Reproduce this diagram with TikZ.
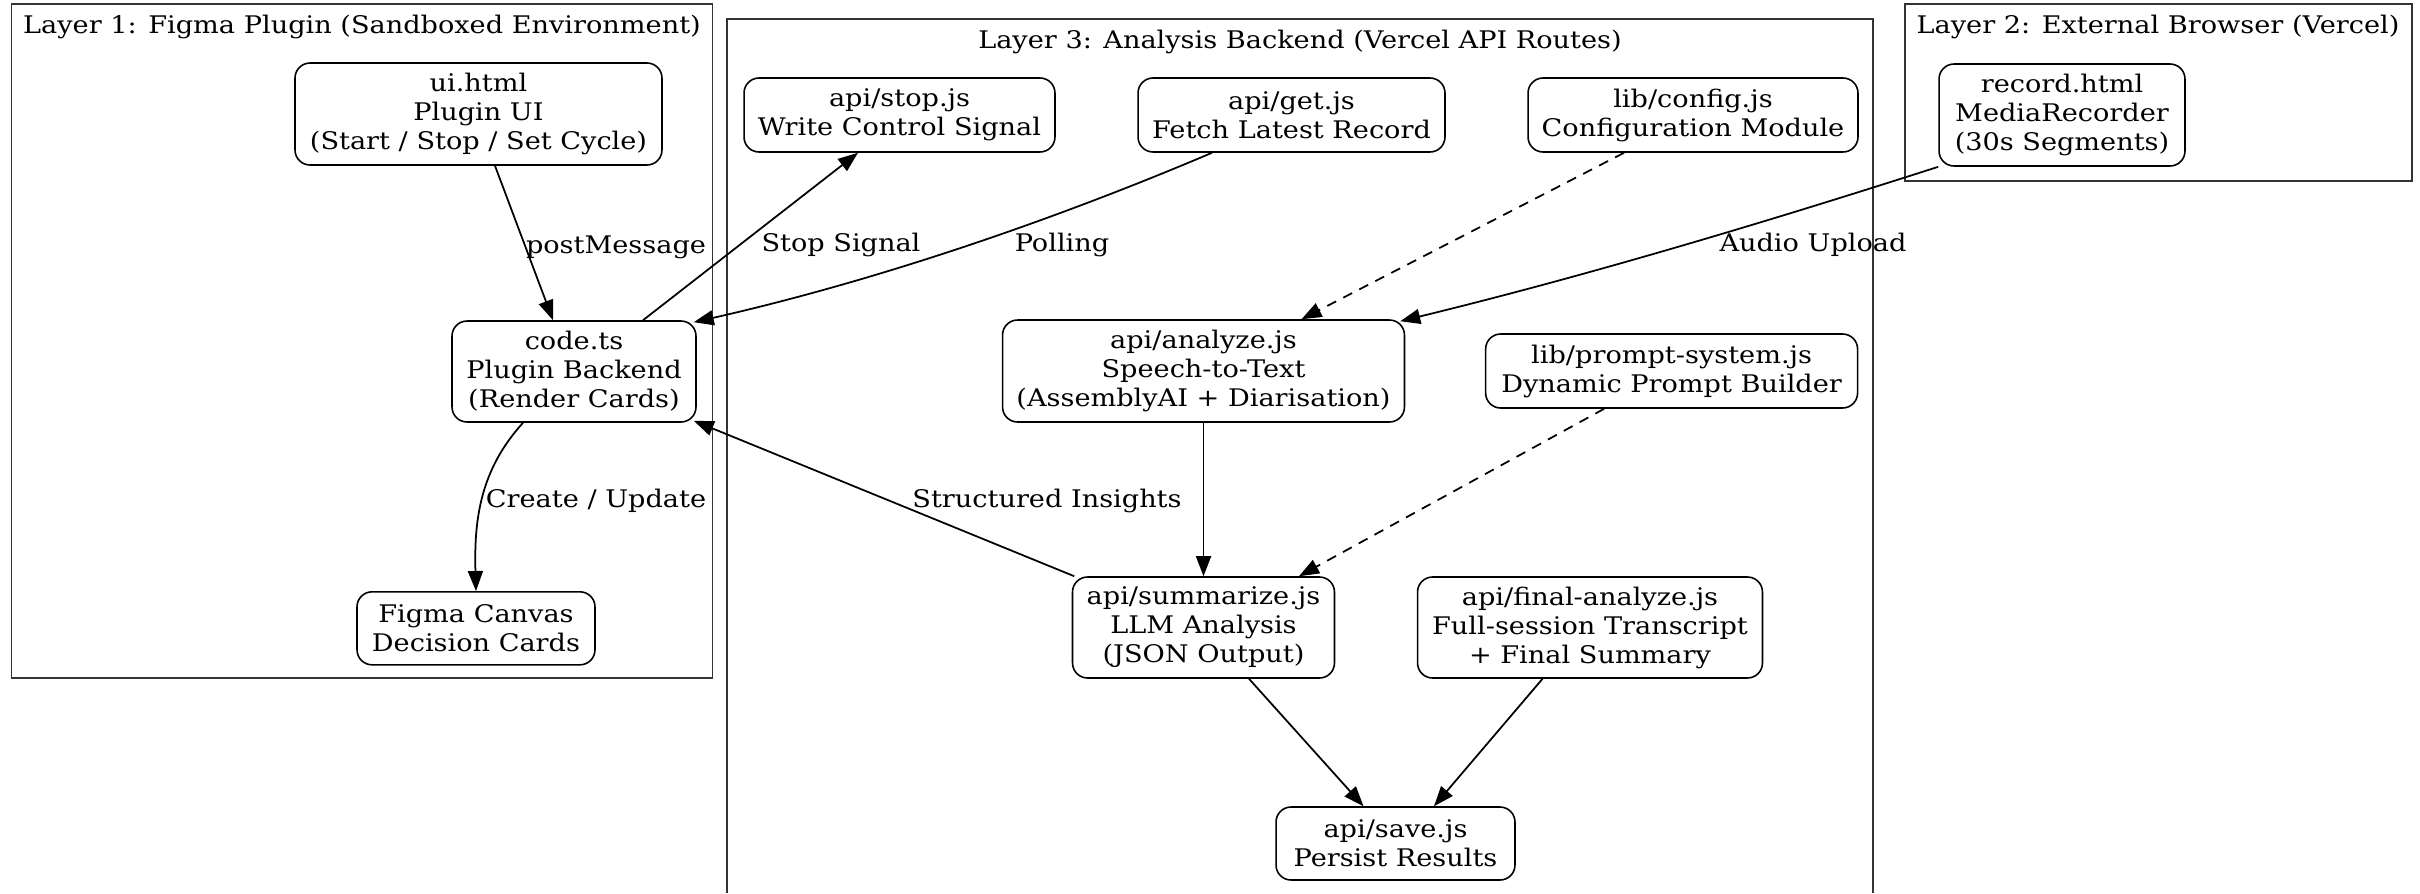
\documentclass[tikz,border=0pt]{standalone}
\usepackage{fontspec}
\setmainfont{DejaVu Serif}[FakeStretch=1.12]
\usepackage{tikz}
\usetikzlibrary{arrows.meta}

\begin{document}
\begin{tikzpicture}[
x=0.02cm, y=-0.02cm,
 every node/.style = {shape=rectangle, rounded corners=0.3cm,
      draw, align=center, inner sep=0pt, line width=0.9pt,
      font=\fontsize{13.8}{16.5}\selectfont},
 edgetext/.style = {draw=none, anchor=base},
 arr/.style = {-{Triangle[length=0.4cm, width=0.3cm]}, line width=1pt},
 dashedarr/.style = {arr, dash pattern=on 0.2cm off 0.16cm},
 layer/.style = {draw=black!80, line width=1pt}
]
\useasboundingbox (0,0) rectangle (2420,893);

  % Capas
  \draw[layer] (11.5,4) rectangle (712.6,678);
  \draw[layer] (727,893) -- (727,19) -- (1873,19) -- (1873,893);
  \draw[layer] (1904.6,4) rectangle (2412,181);
  \node[draw=none, anchor=base] (T1) at (362,33) {Layer 1: Figma Plugin (Sandboxed Environment)};
  \node[draw=none, anchor=base] (T3) at (1300,48) {Layer 3: Analysis Backend (Vercel API Routes)};
  \node[draw=none, anchor=base] (T2) at (2158,33) {Layer 2: External Browser (Vercel)};

  % Nodos
  \node[rectangle, draw, minimum width=7.34cm, minimum height=2.04cm] (A) at (478.5,114) {ui.html\\Plugin UI\\(Start / Stop / Set Cycle)};
  \node[rectangle, draw, minimum width=4.88cm, minimum height=2.02cm] (B) at (574,371.5) {code.ts\\Plugin Backend\\(Render Cards)};
  \node[rectangle, draw, minimum width=4.76cm, minimum height=1.46cm] (C) at (476,628.3) {Figma Canvas\\Decision Cards};
  \node[rectangle, draw, minimum width=4.92cm, minimum height=2.04cm] (D) at (2062,115) {record.html\\MediaRecorder\\(30s Segments)};
  \node[rectangle, draw, minimum width=6.22cm, minimum height=1.48cm] (E) at (899.5,115) {api/stop.js\\Write Control Signal};
  \node[rectangle, draw, minimum width=6.14cm, minimum height=1.48cm] (F) at (1291.5,115) {api/get.js\\Fetch Latest Record};
  \node[rectangle, draw, minimum width=6.6cm, minimum height=1.48cm] (G) at (1693,115) {lib/config.js\\Configuration Module};
  \node[rectangle, draw, minimum width=8.04cm, minimum height=2.04cm] (H) at (1203.5,371) {api/analyze.js\\Speech-to-Text\\(AssemblyAI + Diarisation)};
  \node[rectangle, draw, minimum width=7.44cm, minimum height=1.48cm] (I) at (1671.6,371) {lib/prompt-system.js\\Dynamic Prompt Builder};
  \node[rectangle, draw, minimum width=5.24cm, minimum height=2.02cm] (J) at (1203.5,627.5) {api/summarize.js\\LLM Analysis\\(JSON Output)};
  \node[rectangle, draw, minimum width=6.9cm, minimum height=2.02cm] (K) at (1590,627.5) {api/final-analyze.js\\Full-session Transcript\\+ Final Summary};
  \node[rectangle, draw, minimum width=4.78cm, minimum height=1.46cm] (L) at (1395.5,843.5) {api/save.js\\Persist Results};

  % Flechas
  \draw[arr] ([xshift=0.33cm]A.south) -- ([xshift=-0.42cm]B.north);
  \draw[arr] ([xshift=1.38cm]B.north) -- ([xshift=-0.83cm]E.south);
  \draw[arr] ([xshift=-1.59cm]F.south) .. controls (1042,225) and (867,283) .. ([xshift=-0.06cm,yshift=-0.04cm]B.north east);
  \draw[arr] (D.south west) .. controls (1757,225) and (1580,277.5) .. ([xshift=-0.1cm,yshift=-0.04cm]H.north east);
  \draw[dashedarr] ([xshift=-1.38cm]G.south) -- ([xshift=1.96cm]H.north);
  \draw[arr] (H) -- (J);
  \draw[dashedarr] ([xshift=-1.35cm]I.south) -- ([xshift=1.91cm]J.north);
  \draw[arr] ([xshift=0.05cm]J.north west) -- ([xshift=-0.06cm,yshift=0.04cm]B.south east);
  \draw[arr] ([xshift=-1.02cm]B.south) .. controls (480,470) and (474,520) .. (C.north);
  \draw[arr] ([xshift=0.91cm]J.south) -- ([xshift=-0.64cm]L.north);
  \draw[arr] ([xshift=-0.95cm]K.south) -- ([xshift=0.77cm]L.north);

  % Etiquetas
  \node[edgetext] (P1) at (616,253) {postMessage};
  \node[edgetext] (P2) at (841,251) {Stop Signal};
  \node[edgetext] (P3) at (1062,251) {Polling};
  \node[edgetext] (P4) at (1813,251) {Audio Upload};
  \node[edgetext] (P5) at (596,507) {Create / Update};
  \node[edgetext] (P6) at (1047,507) {Structured Insights};

\end{tikzpicture}
\end{document}
